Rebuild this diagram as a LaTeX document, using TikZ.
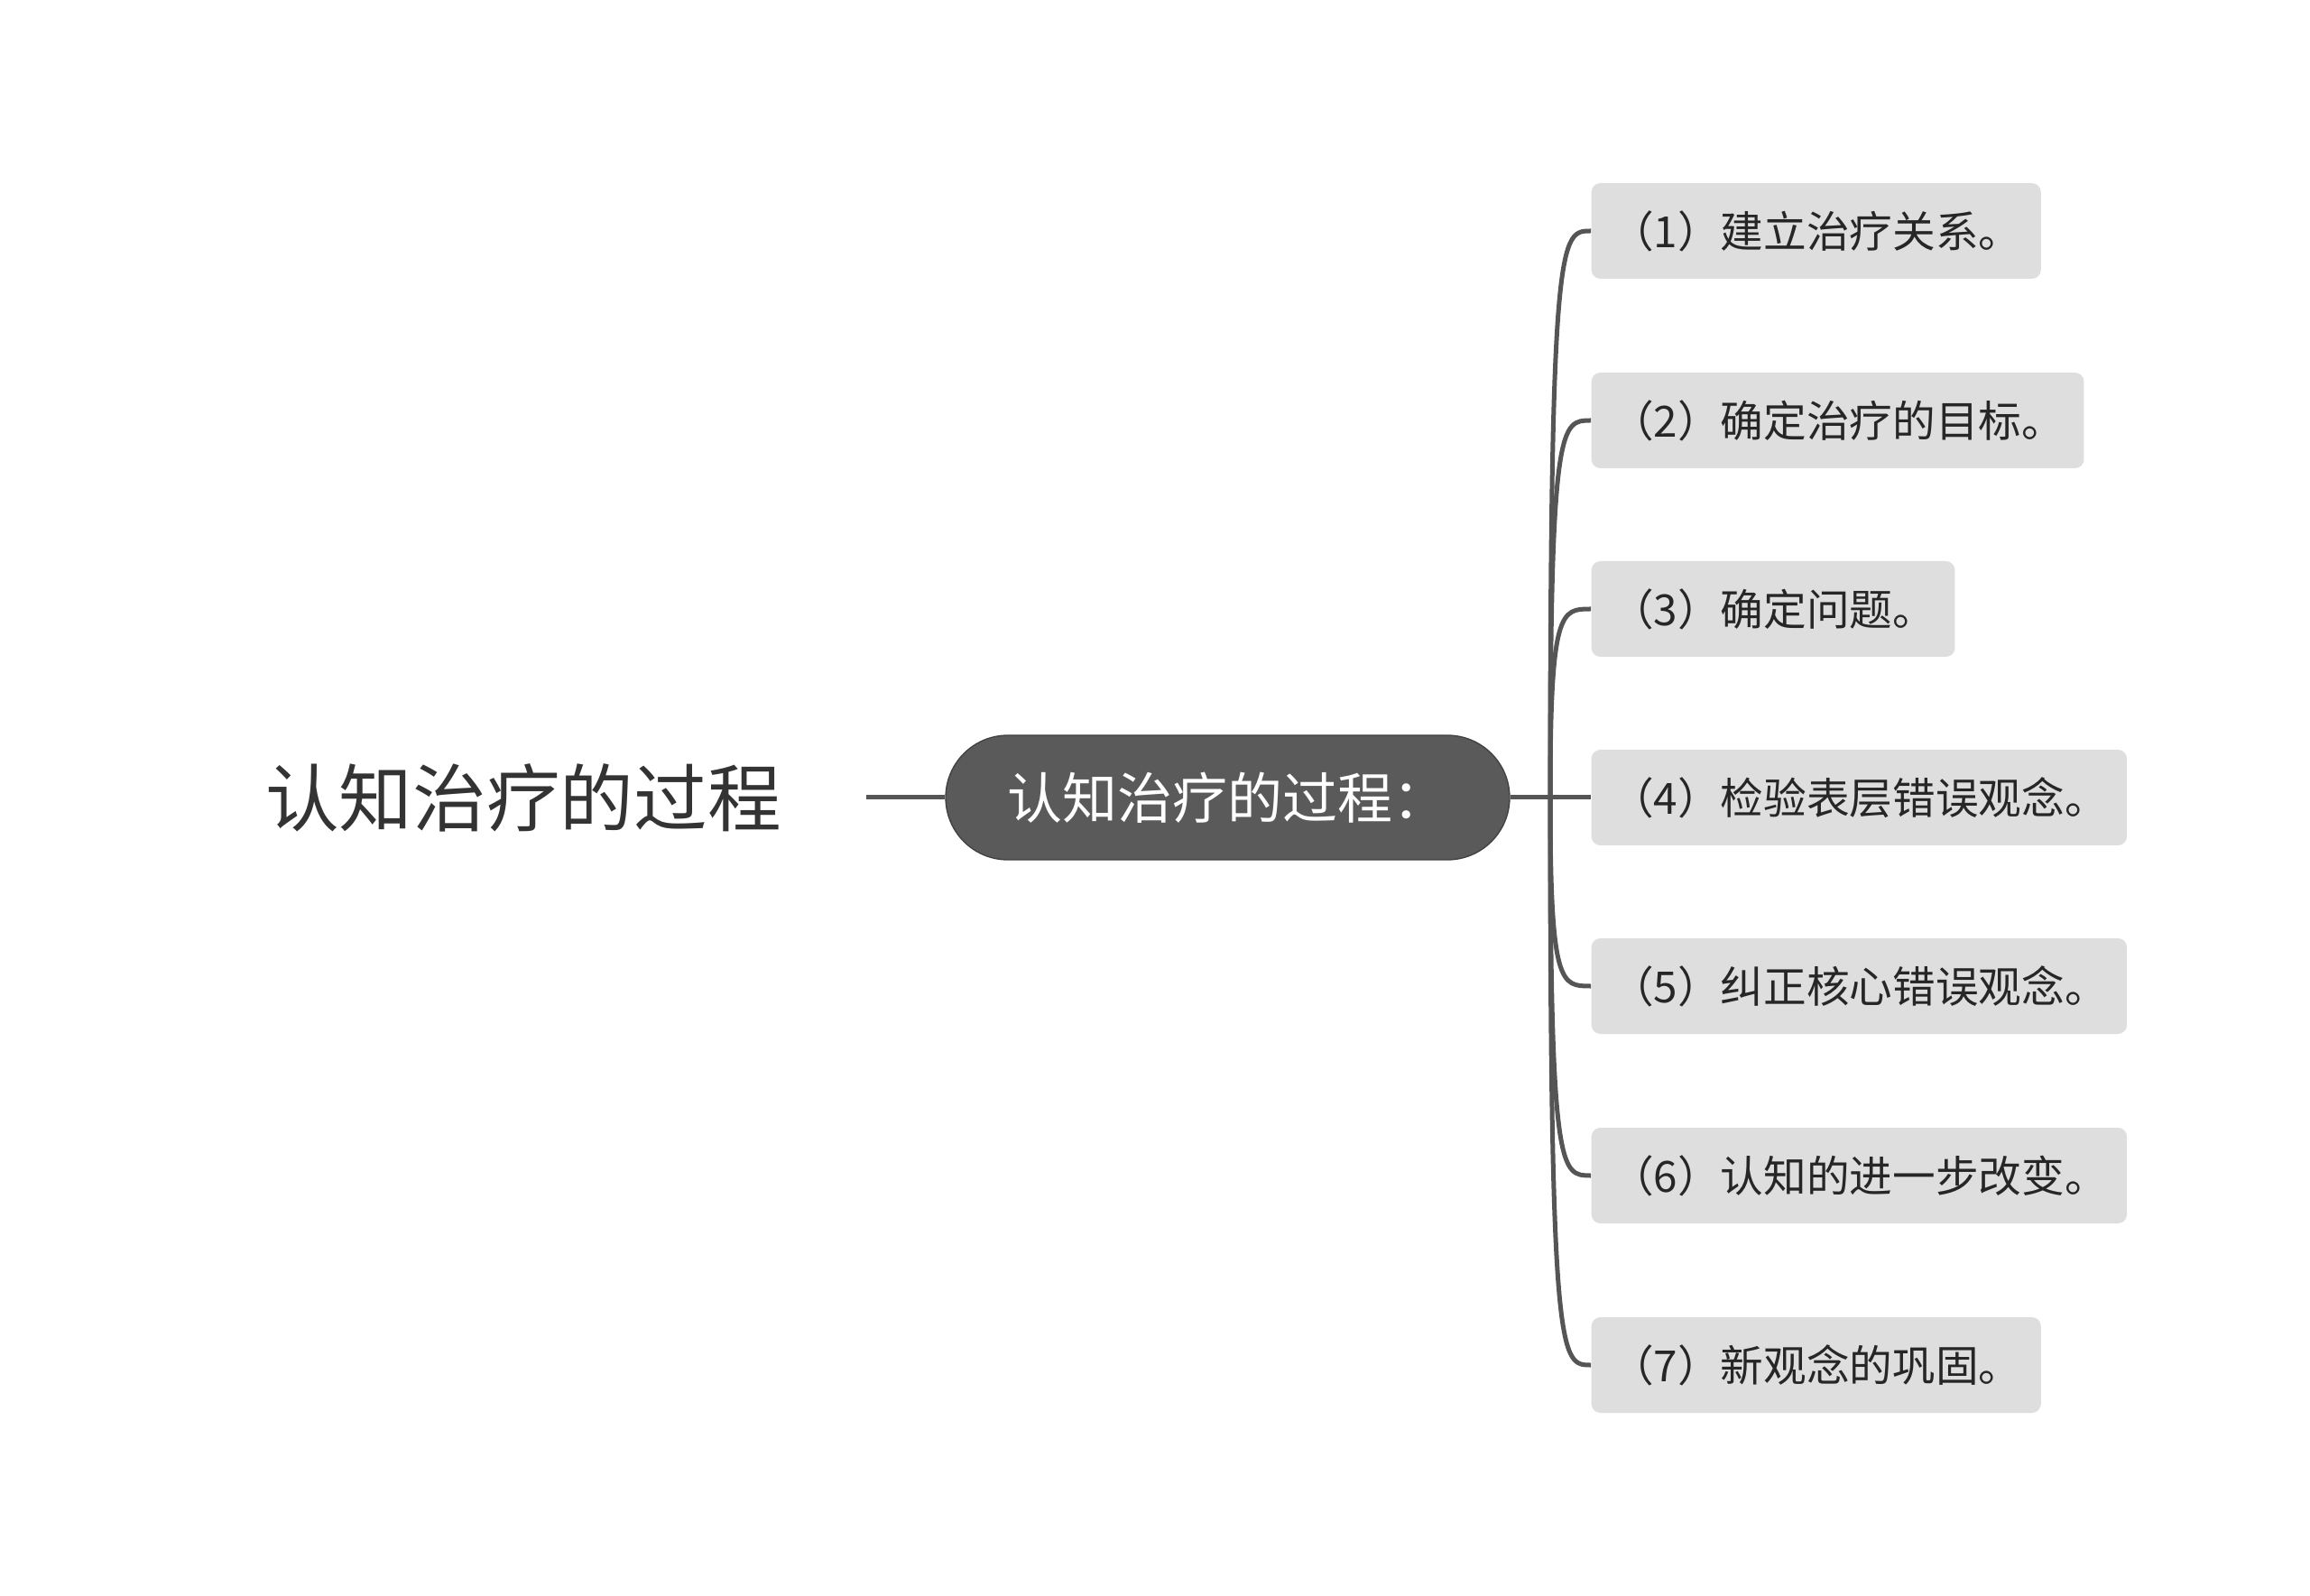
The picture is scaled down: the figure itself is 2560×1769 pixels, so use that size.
\documentclass[tikz,border=0pt]{standalone}
\usepackage{fontspec}
\newfontfamily\cjk{Noto Sans CJK SC}
\definecolor{linegray}{HTML}{555555}
\definecolor{boxgray}{HTML}{DEDEDE}
\definecolor{centergray}{HTML}{5A5A5A}
\definecolor{textdark}{HTML}{333333}
\begin{document}
\begin{tikzpicture}[x=0.3pt,y=-0.3pt,
  rootstyle/.style={font=\cjk\fontsize{24.5}{28}\selectfont, text=textdark, inner sep=0pt},
  centerstyle/.style={font=\cjk\fontsize{18.3}{22}\selectfont, text=white, fill=centergray, draw=black!75, line width=0.4pt, rounded corners=20.7pt, minimum width=187.5pt, minimum height=41.4pt, inner sep=0pt},
  childstyle/.style={font=\cjk\fontsize{14.3}{17}\selectfont, text=black!85, fill=boxgray, rounded corners=3pt, minimum height=31.8pt, inner xsep=6.4pt, inner ysep=0pt, anchor=west},
  conn/.style={draw=linegray, line width=1.5pt}
]
\useasboundingbox (0,0) rectangle (2560,1769);
\node[rootstyle] (root) at (580,884) {认知治疗的过程};
\coordinate (rootend) at (960,884);
\node[centerstyle] (center) at (1360.5,884) {认知治疗的过程：};
\coordinate (junction) at (1718,884);
\node[childstyle] (c1) at (1763,256) {（1）建立治疗关系。};
\node[childstyle] (c2) at (1763,466) {（2）确定治疗的目标。};
\node[childstyle] (c3) at (1763,675) {（3）确定问题。};
\node[childstyle] (c4) at (1763,884) {（4）检验表层错误观念。};
\node[childstyle] (c5) at (1763,1093) {（5）纠正核心错误观念。};
\node[childstyle] (c6) at (1763,1303) {（6）认知的进一步改变。};
\node[childstyle] (c7) at (1763,1513) {（7）新观念的巩固。};
\draw[conn] (rootend) -- (center.west);
\draw[conn] (center.east) -- (junction);
\foreach \c in {c1,c2,c3,c5,c6,c7}{
  \draw[conn] (junction) .. controls (junction |- \c.west) and ([xshift=-10]\c.west) .. (\c.west);
}
\draw[conn] (junction) -- (c4.west);
\end{tikzpicture}
\end{document}
